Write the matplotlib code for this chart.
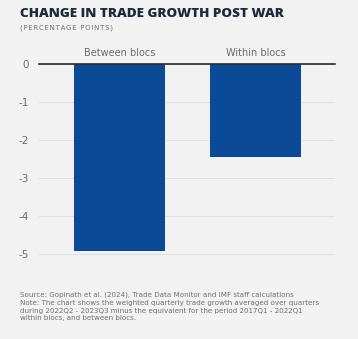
import matplotlib
matplotlib.use("Agg")
import matplotlib.pyplot as plt

categories = ["Between blocs", "Within blocs"]
values = [-4.92, -2.45]
yticks = [0, -1, -2, -3, -4, -5]

BG = "#f2f2f2"
BAR = "#0b4a97"

fig = plt.figure(figsize=(3.58, 3.39), dpi=100, facecolor=BG)
ax = fig.add_axes([39/358, 1-261.6/339, 296/358, 197.6/339], facecolor=BG)

x = list(range(len(categories)))
ax.bar(x, values, width=0.67, color=BAR, zorder=3)
ax.set_xlim(-0.592, 1.585)
ax.set_ylim(-5.2, 0)
ax.set_yticks(yticks)
ax.set_yticklabels([str(t) for t in yticks])
ax.tick_params(axis="y", length=0, pad=7, labelsize=7.5, labelcolor="#6b6b6b")
ax.set_xticks([])
for s in ax.spines.values():
    s.set_visible(False)
ax.grid(axis="y", color="#dcdcdc", linewidth=0.6, zorder=0)
ax.axhline(0, color="#2b2b2b", linewidth=1.2, zorder=4, clip_on=False)

for xi, c in zip(x, categories):
    ax.annotate(c, xy=(xi, 0), xytext=(0, 4), textcoords="offset points",
                ha="center", va="bottom", fontsize=7.0, color="#6b6b6b",
                annotation_clip=False)

fig.text(20/358, 1-14/339, "CHANGE IN TRADE GROWTH POST WAR", fontsize=9.7,
         fontweight=800, family="Open Sans", color="#1c2b3c", va="center", ha="left")
sub = "\u200a".join("(PERCENTAGE POINTS)")
fig.text(20/358, 1-28/339, sub, fontsize=5.0, color="#707070",
         va="center", ha="left")

foot = ("Source: Gopinath et al. (2024), Trade Data Monitor and IMF staff calculations\n"
        "Note: The chart shows the weighted quarterly trade growth averaged over quarters\n"
        "during 2022Q2 - 2023Q3 minus the equivalent for the period 2017Q1 - 2022Q1\n"
        "within blocs, and between blocs.")
fig.text(20/358, 1-292/339, foot, fontsize=5.1, color="#6f6f6f", va="top", ha="left",
         linespacing=1.32)

fig.savefig("out.png", dpi=100, facecolor=BG)
